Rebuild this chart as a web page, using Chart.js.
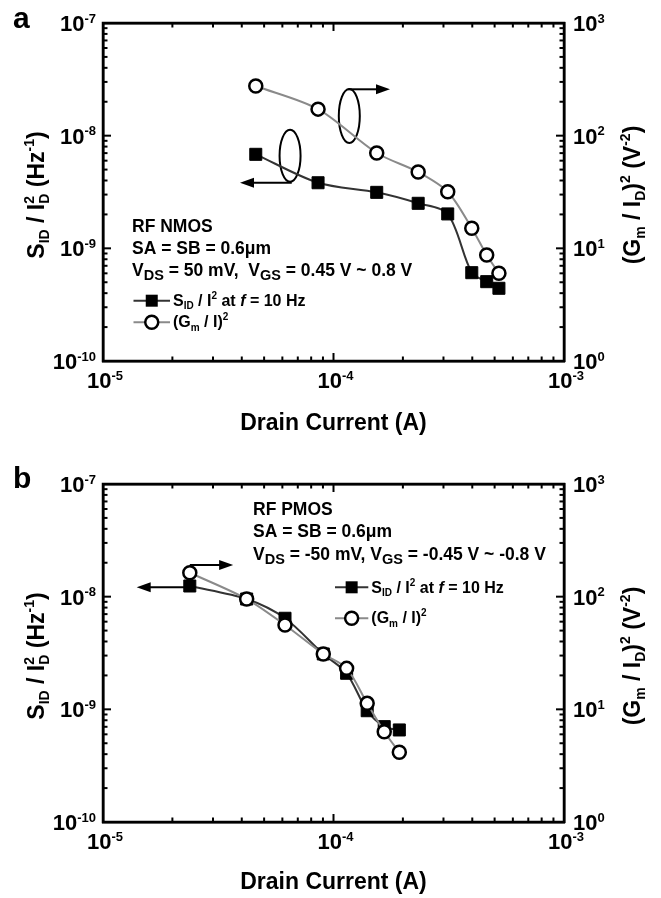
<!DOCTYPE html>
<html>
<head>
<meta charset="utf-8">
<script src="https://cdn.jsdelivr.net/npm/chart.js@4"></script>
<style>
  html, body { margin: 0; padding: 0; background: #fff; }
  canvas { display: block; }
</style>
</head>
<body>
<canvas id="chartA" width="661" height="449"></canvas>
<canvas id="chartB" width="661" height="449"></canvas>
<script>
// Panel a: RF NMOS
const nmosCurrent = [4.6e-5, 8.57e-5, 1.54e-4, 2.33e-4, 3.13e-4, 3.98e-4, 4.62e-4, 5.22e-4];
const nmosNoise   = [6.83e-9, 3.82e-9, 3.14e-9, 2.51e-9, 2.02e-9, 6.08e-10, 5.06e-10, 4.42e-10];
const nmosGm      = [276, 172, 70.2, 47.6, 31.8, 15.1, 8.73, 6.0];

// Panel b: RF PMOS
const pmosCurrent = [2.38e-5, 4.20e-5, 6.16e-5, 9.03e-5, 1.14e-4, 1.40e-4, 1.66e-4, 1.93e-4];
const pmosNoise   = [1.244e-8, 9.53e-9, 6.43e-9, 3.10e-9, 2.09e-9, 9.72e-10, 7.02e-10, 6.56e-10];
const pmosGm      = [163, 95.3, 56.1, 31.0, 23.1, 11.3, 6.33, 4.16];

// Decade tick labels (powers of ten)
const xTickExps     = [-5, -4, -3];
const leftTickExps  = [-10, -9, -8, -7];
const rightTickExps = [0, 1, 2, 3];

const FONT = '"Liberation Sans", Arial, Helvetica, sans-serif';
function font(size, italic) { return (italic ? 'italic ' : '') + 'bold ' + size + 'px ' + FONT; }

// Rich text: each segment is [text, size, dy, italic, noAdvance]
function richWidth(ctx, segs) {
  let w = 0;
  for (const s of segs) {
    ctx.font = font(s[1], s[3]);
    if (!s[4]) w += ctx.measureText(s[0]).width;
  }
  return w;
}
function drawRich(ctx, x, y, segs, align) {
  const w = richWidth(ctx, segs);
  let cx = align === 'center' ? x - w / 2 : align === 'right' ? x - w : x;
  ctx.textAlign = 'left';
  ctx.textBaseline = 'alphabetic';
  for (const s of segs) {
    ctx.font = font(s[1], s[3]);
    ctx.fillText(s[0], cx, y + (s[2] || 0));
    if (!s[4]) cx += ctx.measureText(s[0]).width;
  }
}
function powLabel(e) { return [['10', 22], [String(e), 13, -8.5]]; }

function arrow(ctx, x1, y, x2) {
  const dir = Math.sign(x2 - x1);
  ctx.beginPath();
  ctx.moveTo(x1, y);
  ctx.lineTo(x2 - dir * 10, y);
  ctx.stroke();
  ctx.beginPath();
  ctx.moveTo(x2, y);
  ctx.lineTo(x2 - dir * 14, y - 5);
  ctx.lineTo(x2 - dir * 14, y + 5);
  ctx.closePath();
  ctx.fill();
}

const axisTitleLeft = [['S', 23], ['ID', 14, 5], [' / I', 23], ['2', 14, -10, false, true], ['D', 14, 5],
                       [' (Hz', 23], ['-1', 14, -10], [')', 23]];
const axisTitleRight = [['(G', 23], ['m', 14, 5], [' / I', 23], ['D', 14, 5], [')', 23], ['2', 14, -10],
                        [' (V', 23], ['-2', 14, -10], [')', 23]];
const legendNoise = [['S', 16], ['ID', 10, 3], [' / I', 16], ['2', 10, -7], [' at ', 16], ['f', 16, 0, true], [' = 10 Hz', 16]];
const legendGm = [['(G', 16], ['m', 10, 4], [' / I)', 16], ['2', 10, -7]];

function decorPlugin(cfg) {
  return {
    id: 'decor',
    beforeDatasetsDraw(chart) {
      const { ctx, scales } = chart;
      ctx.save();
      ctx.strokeStyle = '#000';
      ctx.fillStyle = '#000';
      ctx.lineWidth = 2;
      for (const el of cfg.ellipses) {
        const px = scales.x.getPixelForValue(el.x);
        const py = scales[el.axis].getPixelForValue(el.y);
        ctx.beginPath();
        ctx.ellipse(px, py, el.rx, el.ry, 0, 0, Math.PI * 2);
        ctx.stroke();
      }
      for (const ar of cfg.arrows) {
        const y = scales[ar.axis].getPixelForValue(ar.y);
        arrow(ctx, scales.x.getPixelForValue(ar.x1), y, scales.x.getPixelForValue(ar.x2));
      }
      ctx.restore();
    },
    afterDraw(chart) {
      const { ctx, chartArea: a, scales } = chart;
      const sx = scales.x, yl = scales.y, yr = scales.y2;
      ctx.save();
      ctx.strokeStyle = '#000';
      ctx.fillStyle = '#000';

      // Inward ticks on all four sides
      ctx.lineWidth = 2;
      const tick = (x1, y1, x2, y2) => { ctx.beginPath(); ctx.moveTo(x1, y1); ctx.lineTo(x2, y2); ctx.stroke(); };
      const decadeTicks = (exps, fn) => {
        for (let i = 0; i < exps.length; i++) {
          const base = Math.pow(10, exps[i]);
          const last = i === exps.length - 1;
          for (let k = 1; k <= (last ? 1 : 9); k++) fn(k * base, k === 1);
        }
      };
      decadeTicks(xTickExps, (v, major) => {
        const px = sx.getPixelForValue(v), L = major ? 8 : 4.5;
        tick(px, a.bottom, px, a.bottom - L);
        tick(px, a.top, px, a.top + L);
      });
      decadeTicks(leftTickExps, (v, major) => {
        const py = yl.getPixelForValue(v), L = major ? 8 : 4.5;
        tick(a.left, py, a.left + L, py);
      });
      decadeTicks(rightTickExps, (v, major) => {
        const py = yr.getPixelForValue(v), L = major ? 8 : 4.5;
        tick(a.right, py, a.right - L, py);
      });

      // Frame
      ctx.lineWidth = 2.5;
      ctx.strokeRect(a.left, a.top, a.right - a.left, a.bottom - a.top);

      // Tick labels
      for (const e of xTickExps) drawRich(ctx, sx.getPixelForValue(Math.pow(10, e)) + 2, a.bottom + 27, powLabel(e), 'center');
      for (const e of leftTickExps) drawRich(ctx, a.left - 7, yl.getPixelForValue(Math.pow(10, e)) + 8, powLabel(e), 'right');
      for (const e of rightTickExps) drawRich(ctx, a.right + 9, yr.getPixelForValue(Math.pow(10, e)) + 8, powLabel(e), 'left');

      // Axis titles
      drawRich(ctx, (a.left + a.right) / 2, a.bottom + cfg.xTitleGap, [['Drain Current (A)', 23]], 'center');
      const cy = (a.top + a.bottom) / 2 + 3;
      ctx.save(); ctx.translate(44, cy); ctx.rotate(-Math.PI / 2);
      drawRich(ctx, 0, 0, axisTitleLeft, 'center'); ctx.restore();
      ctx.save(); ctx.translate(640, cy); ctx.rotate(-Math.PI / 2);
      drawRich(ctx, 0, 0, axisTitleRight, 'center'); ctx.restore();

      // Panel letter
      ctx.font = font(30);
      ctx.textAlign = 'left';
      ctx.textBaseline = 'alphabetic';
      ctx.fillText(cfg.letter, 13, cfg.letterBaseline);

      // Condition text
      cfg.lines.forEach((segs, i) => drawRich(ctx, a.left + cfg.textX, a.top + cfg.textY[i], segs, 'left'));

      // Legend
      const lg = cfg.legend;
      const lx1 = a.left + lg.x1, lx2 = a.left + lg.x2, mx = (lx1 + lx2) / 2;
      const r1 = a.top + lg.y[0], r2 = a.top + lg.y[1];
      ctx.lineWidth = 2;
      ctx.strokeStyle = '#333';
      tick(lx1, r1, lx2, r1);
      ctx.fillStyle = '#000';
      ctx.fillRect(mx - 6, r1 - 6, 12, 12);
      ctx.strokeStyle = '#8a8a8a';
      tick(lx1, r2, lx2, r2);
      ctx.beginPath(); ctx.arc(mx, r2, 6.5, 0, Math.PI * 2);
      ctx.fillStyle = '#fff'; ctx.fill();
      ctx.strokeStyle = '#000'; ctx.lineWidth = 2.5; ctx.stroke();
      ctx.fillStyle = '#000';
      drawRich(ctx, lx2 + 3, r1 + 5.5, legendNoise, 'left');
      drawRich(ctx, lx2 + 3, r2 + 4.5, legendGm, 'left');

      ctx.restore();
    }
  };
}

function makeChart(id, current, noise, gm, topH, bottomH, cfg) {
  const border = { display: true, color: '#000', width: 2.5 };
  const common = { type: 'logarithmic', grid: { display: false }, border, ticks: { display: false } };
  return new Chart(document.getElementById(id), {
    type: 'line',
    data: {
      datasets: [
        {
          data: current.map((c, i) => ({ x: c, y: noise[i] })),
          yAxisID: 'y',
          borderColor: '#333',
          borderWidth: 2,
          pointStyle: 'rect',
          pointRadius: 8.5,
          pointBackgroundColor: '#000',
          pointBorderColor: '#000',
          pointBorderWidth: 1,
          tension: 0.3,
          order: 1
        },
        {
          data: current.map((c, i) => ({ x: c, y: gm[i] })),
          yAxisID: 'y2',
          borderColor: '#8a8a8a',
          borderWidth: 2,
          pointStyle: 'circle',
          pointRadius: 6.5,
          pointBackgroundColor: '#fff',
          pointBorderColor: '#000',
          pointBorderWidth: 2.5,
          tension: 0.3,
          order: 0
        }
      ]
    },
    options: {
      responsive: false,
      animation: false,
      events: [],
      layout: { padding: 0 },
      plugins: { legend: { display: false }, tooltip: { enabled: false } },
      scales: {
        x: Object.assign({}, common, { position: 'bottom', min: 1e-5, max: 1e-3, afterFit: s => { s.height = bottomH; } }),
        xTop: Object.assign({}, common, { position: 'top', min: 1e-5, max: 1e-3, afterFit: s => { s.height = topH; } }),
        y: Object.assign({}, common, { position: 'left', min: 1e-10, max: 1e-7, afterFit: s => { s.width = 103; } }),
        y2: Object.assign({}, common, { position: 'right', min: 1, max: 1000, afterFit: s => { s.width = 97; } })
      }
    },
    plugins: [decorPlugin(cfg)]
  });
}

makeChart('chartA', nmosCurrent, nmosNoise, nmosGm, 23, 88, {
  letter: 'a', letterBaseline: 28, xTitleGap: 69,
  ellipses: [
    { x: 6.48e-5, y: 6.64e-9, axis: 'y', rx: 10.5, ry: 26 },
    { x: 1.171e-4, y: 149.5, axis: 'y2', rx: 10.5, ry: 27 }
  ],
  arrows: [
    { x1: 6.59e-5, x2: 3.93e-5, y: 3.83e-9, axis: 'y' },
    { x1: 1.159e-4, x2: 1.758e-4, y: 258, axis: 'y2' }
  ],
  textX: 29, textY: [208.7, 231.3, 253],
  lines: [
    [['RF NMOS', 17.5]],
    [['SA = SB = 0.6\u03bcm', 17.5]],
    [['V', 17.5], ['DS', 14.5, 4], [' = 50 mV,  V', 17.5], ['GS', 14.5, 4], [' = 0.45 V ~ 0.8 V', 17.5]]
  ],
  legend: { x1: 30.5, x2: 67, y: [277.7, 299.3] }
});

makeChart('chartB', pmosCurrent, pmosNoise, pmosGm, 35, 76, {
  letter: 'b', letterBaseline: 39, xTitleGap: 67,
  ellipses: [],
  arrows: [
    { x1: 2.38e-5, x2: 3.67e-5, y: 191, axis: 'y2' },
    { x1: 2.38e-5, x2: 1.40e-5, y: 1.211e-8, axis: 'y' }
  ],
  textX: 150, textY: [31, 53.3, 76],
  lines: [
    [['RF PMOS', 17.5]],
    [['SA = SB = 0.6\u03bcm', 17.5]],
    [['V', 17.5], ['DS', 14.5, 4], [' = -50 mV, V', 17.5], ['GS', 14.5, 4], [' = -0.45 V ~ -0.8 V', 17.5]]
  ],
  legend: { x1: 232, x2: 265.3, y: [103.3, 134.3] }
});
</script>
</body>
</html>
